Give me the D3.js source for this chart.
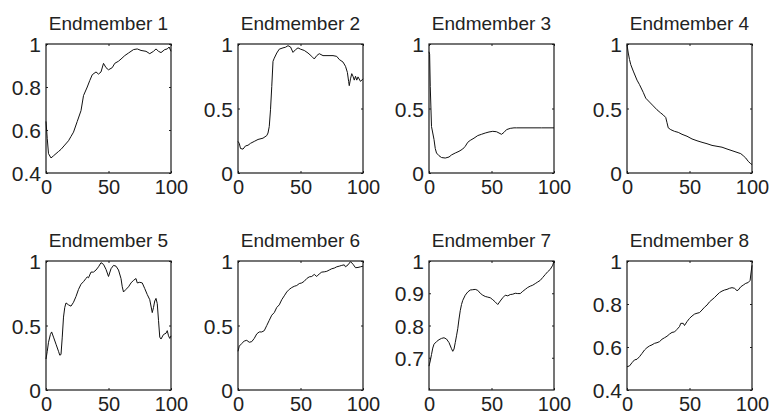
<!DOCTYPE html>
<html>
<head>
<meta charset="utf-8">
<script src="https://cdn.jsdelivr.net/npm/d3@7"></script>
<style>
  html, body { margin: 0; padding: 0; background: #fff; }
  svg { display: block; }
  text { font-family: "Liberation Sans", Arial, Helvetica, sans-serif; fill: #222; }
</style>
</head>
<body>
<svg id="chart"></svg>
<script>
// panel titles
const titles = ["Endmember 1", "Endmember 2", "Endmember 3", "Endmember 4",
                "Endmember 5", "Endmember 6", "Endmember 7", "Endmember 8"];

// y ranges and tick labels per panel
const yDomains = [[0.4, 1], [0, 1], [0, 1], [0, 1], [0, 1], [0, 1], [0.6, 1], [0.4, 1]];
const yTicks = [[0.4, 0.6, 0.8, 1], [0, 0.5, 1], [0, 0.5, 1], [0, 0.5, 1],
                [0, 0.5, 1], [0, 0.5, 1], [0.7, 0.8, 0.9, 1], [0.4, 0.6, 0.8, 1]];
const xTicks = [0, 50, 100];

// series: [band, abundance]
const em1 = [[0,0.64],[1,0.56],[2,0.49],[4,0.47],[6,0.48],[8,0.49],[10,0.50],[12,0.51],[15,0.53],[18,0.55],[20,0.57],[22,0.59],
  [25,0.64],[28,0.69],[30,0.76],[33,0.80],[35,0.83],[37,0.857],[40,0.87],[42,0.86],[44,0.87],[46,0.91],[48,0.89],[50,0.88],
  [53,0.89],[55,0.91],[58,0.92],[60,0.93],[63,0.946],[66,0.958],[70,0.974],[73,0.977],[76,0.97],[80,0.966],[83,0.955],
  [86,0.966],[88,0.977],[90,0.966],[92,0.96],[95,0.974],[97,0.977],[98.5,0.986],[100,0.966]];
const em2 = [[0,0.245],[1,0.23],[2,0.19],[4,0.185],[6,0.21],[8,0.215],[10,0.23],[13,0.245],[16,0.26],[20,0.27],[23,0.29],
  [24,0.31],[25,0.36],[26,0.49],[27,0.67],[28,0.866],[29,0.89],[31,0.93],[33,0.96],[36,0.97],[38,0.975],[40,0.987],[42,0.977],
  [44,0.935],[46,0.956],[48,0.97],[50,0.96],[53,0.95],[56,0.93],[59,0.904],[61,0.884],[63,0.91],[65,0.925],[68,0.91],[72,0.91],
  [76,0.91],[79,0.904],[81,0.88],[84,0.86],[86,0.827],[87.5,0.78],[88.5,0.71],[89,0.677],[90,0.73],[91,0.77],[92,0.75],
  [93,0.72],[94,0.75],[95,0.72],[96,0.745],[98,0.71],[100,0.73]];
const em3 = [[0,0.94],[0.5,0.92],[1,0.67],[2,0.36],[3,0.31],[4,0.26],[5,0.19],[6,0.155],[8,0.134],[10,0.12],[13,0.116],
  [16,0.124],[18,0.14],[21,0.155],[24,0.168],[27,0.186],[29,0.207],[31,0.238],[33,0.253],[36,0.27],[39,0.29],[42,0.30],
  [45,0.31],[48,0.318],[51,0.323],[54,0.32],[56,0.31],[58,0.30],[60,0.315],[62,0.336],[65,0.346],[68,0.35],[70,0.35],
  [80,0.35],[90,0.35],[100,0.35]];
const em4 = [[0,0.995],[1,0.93],[2,0.88],[3,0.84],[5,0.79],[8,0.72],[10,0.685],[13,0.625],[15,0.58],[18,0.55],[21,0.52],
  [24,0.49],[27,0.465],[29,0.45],[31,0.43],[32,0.39],[33,0.35],[35,0.336],[38,0.323],[41,0.315],[44,0.30],[48,0.285],
  [52,0.264],[56,0.25],[60,0.238],[64,0.227],[68,0.214],[72,0.207],[76,0.20],[80,0.186],[84,0.173],[88,0.16],[91,0.15],
  [93,0.134],[95,0.116],[97,0.09],[99,0.072],[100,0.065]];
const em5 = [[0,0.24],[1,0.30],[2,0.37],[3.5,0.43],[4.5,0.45],[6,0.41],[8,0.355],[10,0.30],[11,0.27],[12,0.275],[13,0.41],
  [14,0.565],[15,0.64],[16,0.675],[18,0.66],[20,0.65],[22,0.68],[24,0.725],[26,0.78],[28,0.82],[30,0.84],[32,0.865],
  [33,0.877],[34,0.87],[36,0.914],[38,0.914],[40,0.93],[42,0.955],[44,0.987],[46,0.974],[48,0.935],[50,0.88],[52,0.94],
  [54,0.966],[56,0.96],[58,0.93],[60,0.864],[61,0.80],[62,0.76],[64,0.78],[66,0.80],[68,0.83],[70,0.85],[72,0.864],
  [73,0.83],[75,0.835],[77,0.83],[79,0.786],[81,0.74],[83,0.70],[85,0.60],[86,0.64],[87,0.69],[88,0.71],[89,0.67],
  [90,0.54],[91,0.41],[92,0.395],[94,0.43],[96,0.44],[97,0.46],[98,0.42],[99,0.40],[100,0.42]];
const em6 = [[0,0.30],[1,0.34],[3,0.36],[5,0.38],[7,0.385],[9,0.37],[11,0.375],[13,0.40],[15,0.435],[17,0.45],[19,0.45],
  [21,0.46],[23,0.50],[25,0.54],[27,0.58],[29,0.60],[31,0.64],[33,0.66],[35,0.70],[37,0.73],[39,0.76],[41,0.78],[43,0.794],
  [45,0.804],[47,0.81],[49,0.825],[51,0.83],[53,0.843],[55,0.864],[57,0.877],[59,0.88],[61,0.896],[63,0.88],[65,0.90],
  [67,0.914],[69,0.916],[71,0.92],[73,0.93],[75,0.94],[77,0.945],[79,0.955],[81,0.96],[83,0.966],[85,0.97],[86,0.955],
  [88,0.97],[90,0.995],[92,0.975],[94,0.948],[96,0.95],[98,0.955],[100,0.96]];
const em7 = [[0,0.674],[1,0.69],[2,0.71],[3,0.73],[4,0.742],[6,0.75],[8,0.756],[10,0.76],[12,0.762],[14,0.758],[16,0.747],
  [18,0.728],[19,0.72],[20,0.727],[21,0.747],[22,0.768],[23,0.79],[24,0.82],[25,0.846],[26,0.865],[27,0.878],[29,0.894],
  [31,0.904],[33,0.91],[35,0.911],[37,0.912],[39,0.909],[41,0.90],[43,0.894],[45,0.89],[47,0.888],[49,0.886],[51,0.88],
  [53,0.873],[55,0.865],[57,0.876],[59,0.886],[61,0.894],[63,0.892],[65,0.896],[67,0.897],[69,0.90],[71,0.899],[73,0.899],
  [75,0.906],[77,0.912],[79,0.918],[81,0.922],[83,0.925],[85,0.93],[87,0.935],[89,0.94],[91,0.949],[93,0.958],[95,0.967],
  [97,0.974],[99,0.987],[100,1.0]];
const em8 = [[0,0.508],[2,0.512],[4,0.527],[6,0.54],[8,0.543],[10,0.555],[12,0.57],[14,0.586],[16,0.597],[18,0.605],
  [20,0.61],[22,0.617],[24,0.62],[26,0.625],[28,0.636],[30,0.643],[32,0.65],[34,0.66],[36,0.668],[38,0.67],[40,0.682],
  [42,0.695],[43,0.71],[45,0.71],[46,0.70],[48,0.718],[50,0.733],[52,0.744],[54,0.753],[56,0.757],[58,0.76],[60,0.772],
  [62,0.785],[64,0.795],[66,0.81],[68,0.82],[70,0.83],[72,0.842],[74,0.853],[76,0.86],[78,0.865],[80,0.868],[82,0.873],
  [84,0.876],[86,0.873],[88,0.862],[89,0.865],[91,0.88],[93,0.888],[95,0.896],[97,0.90],[98.5,0.91],[99,0.935],[100,0.98]];

const series = [em1, em2, em3, em4, em5, em6, em7, em8];

const svgWidth = 783;
const svgHeight = 415;

// panel boxes measured on the reference
const colLeft = [46, 238, 429, 627];
const rowTop = [44, 261];
const panelW = 125;
const panelH = 129;
const tickLen = 2;

const svg = d3.select("#chart").attr("width", svgWidth).attr("height", svgHeight);

series.forEach((data, i) => {
  const col = i % 4;
  const row = Math.floor(i / 4);

  const g = svg.append("g")
    .attr("transform", `translate(${colLeft[col]},${rowTop[row]})`);

  const xScale = d3.scaleLinear().domain([0, 100]).range([0, panelW]);
  const yScale = d3.scaleLinear().domain(yDomains[i]).range([panelH, 0]);

  // ticks inside the box on all four sides, labels only bottom/left
  const xAxisB = d3.axisBottom(xScale).tickValues(xTicks).tickSizeInner(-tickLen).tickSizeOuter(0)
    .tickFormat(d3.format("d"));
  const xAxisT = d3.axisTop(xScale).tickValues(xTicks).tickSizeInner(-tickLen).tickSizeOuter(0).tickFormat("");
  const yAxisL = d3.axisLeft(yScale).tickValues(yTicks[i]).tickSizeInner(-tickLen).tickSizeOuter(0)
    .tickPadding(5).tickFormat(d3.format("~g"));
  const yAxisR = d3.axisRight(yScale).tickValues(yTicks[i]).tickSizeInner(-tickLen).tickSizeOuter(0).tickFormat("");

  g.append("g").attr("transform", `translate(0,${panelH})`).call(xAxisB)
    .call((a) => a.selectAll("text").attr("y", 21).attr("dy", null).style("font-size", "20px"));
  g.append("g").call(xAxisT);
  g.append("g").call(yAxisL)
    .call((a) => a.selectAll("text").attr("dy", "0.36em").style("font-size", "21px"));
  g.append("g").attr("transform", `translate(${panelW},0)`).call(yAxisR);

  g.selectAll(".domain").remove();
  g.selectAll(".tick line").attr("stroke", "#222");
  g.selectAll(".tick text").attr("font-family", null).attr("fill", null);

  // plot box
  g.append("rect")
    .attr("width", panelW)
    .attr("height", panelH)
    .attr("fill", "none")
    .attr("stroke", "#1a1a1a")
    .attr("stroke-width", 1.2);

  // the curve
  const line = d3.line()
    .x((d) => xScale(d[0]))
    .y((d) => yScale(d[1]));

  g.append("path")
    .datum(data)
    .attr("fill", "none")
    .attr("stroke", "#111")
    .attr("stroke-width", 1)
    .attr("d", line);

  // title
  g.append("text")
    .attr("x", panelW / 2)
    .attr("y", -14)
    .attr("text-anchor", "middle")
    .style("font-size", "19px")
    .text(titles[i]);
});
</script>
</body>
</html>
